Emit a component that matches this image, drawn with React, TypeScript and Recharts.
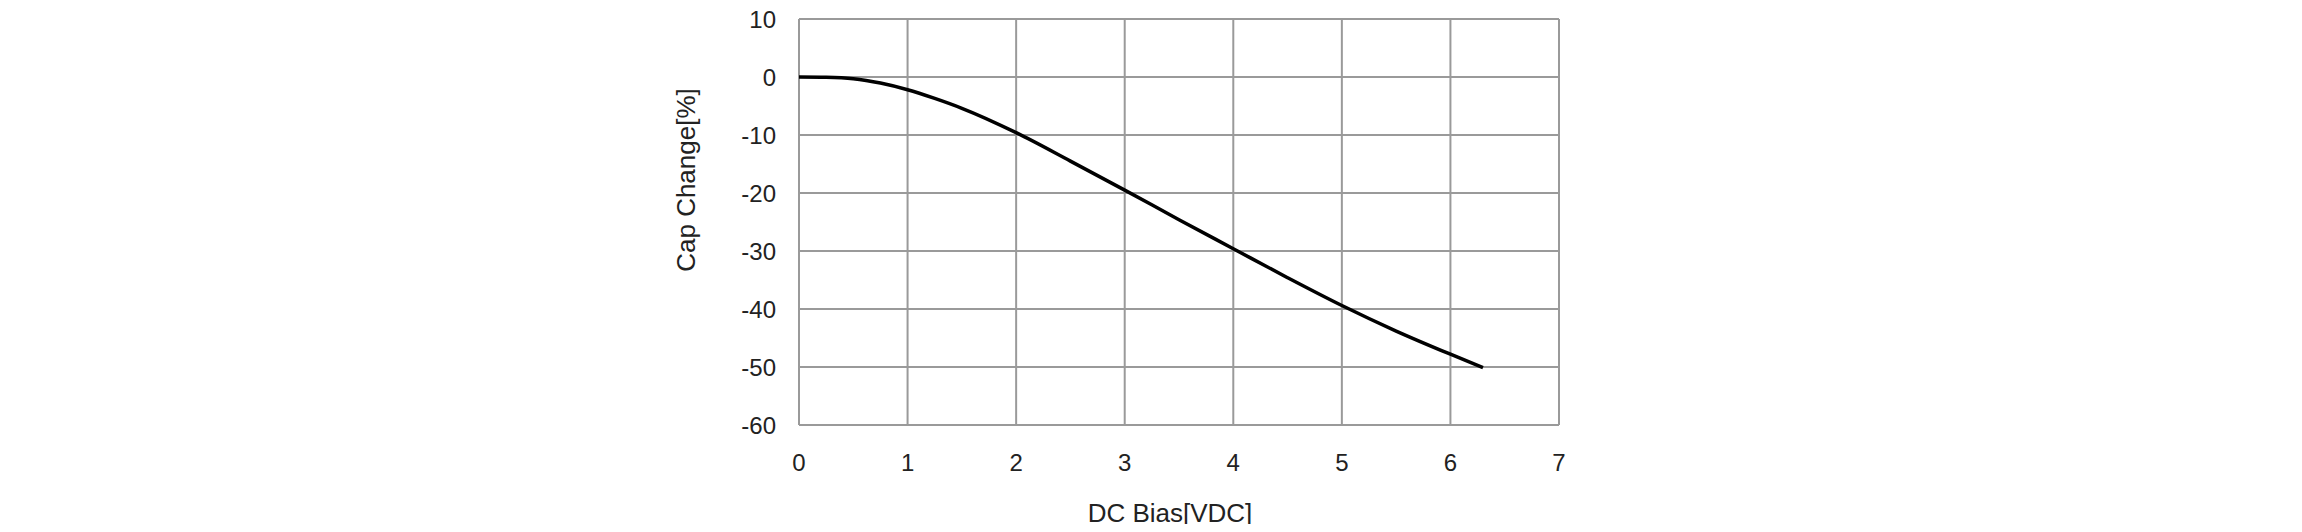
import React from "react";
import { LineChart, Line, XAxis, YAxis, CartesianGrid, Label } from "recharts";

const biasVolts = [0, 0.25, 0.5, 0.75, 1, 1.25, 1.5, 2, 2.5, 3, 3.5, 4, 4.5, 5, 5.5, 6, 6.3];
const capChange = [0, -0.05, -0.3, -1.05, -2.2, -3.7, -5.4, -9.6, -14.5, -19.5, -24.6, -29.6, -34.6, -39.4, -43.8, -47.8, -50.1];
const xTicks = [0, 1, 2, 3, 4, 5, 6, 7];
const yTicks = [10, 0, -10, -20, -30, -40, -50, -60];

const data = biasVolts.map((v, i) => ({ v, c: capChange[i] }));

const FONT = "'Liberation Sans', Arial, sans-serif";
const TEXT = "#222";

const YTitle = (props: any) => {
  const vb = props.viewBox;
  const cx = vb.x - 53;
  const cy = vb.y + 161;
  return (
    <text
      x={cx}
      y={cy}
      transform={`rotate(-90, ${cx}, ${cy})`}
      textAnchor="middle"
      dominantBaseline="central"
      fontFamily={FONT}
      fontSize={26}
      fill={TEXT}
    >
      Cap Change[%]
    </text>
  );
};

const XTitle = (props: any) => {
  const vb = props.viewBox;
  const cx = vb.x + vb.width / 2 - 9;
  const cy = vb.y + 88;
  return (
    <text
      x={cx}
      y={cy}
      textAnchor="middle"
      dominantBaseline="central"
      fontFamily={FONT}
      fontSize={26}
      fill={TEXT}
    >
      DC Bias[VDC]
    </text>
  );
};

export default function App() {
  return (
    <div style={{ width: 2302, height: 532, margin: -8 }}>
      <LineChart
        width={2302}
        height={532}
        data={data}
        margin={{ top: 19, right: 743, bottom: 47, left: 739 }}
      >
        <CartesianGrid stroke="#9a9a9a" strokeWidth={2} />
        <XAxis
          type="number"
          dataKey="v"
          domain={[0, 7]}
          ticks={xTicks}
          interval={0}
          axisLine={false}
          tickLine={false}
          tickSize={0}
          tickMargin={29}
          height={60}
          tick={{ fontFamily: FONT, fontSize: 24, fill: TEXT }}
        >
          <Label content={XTitle} />
        </XAxis>
        <YAxis
          type="number"
          domain={[-60, 10]}
          ticks={yTicks}
          interval={0}
          axisLine={false}
          tickLine={false}
          tickSize={0}
          tickMargin={23}
          width={60}
          tick={{ fontFamily: FONT, fontSize: 24, fill: TEXT }}
        >
          <Label content={YTitle} />
        </YAxis>
        <Line
          type="monotone"
          dataKey="c"
          stroke="#000"
          strokeWidth={3.5}
          dot={false}
          isAnimationActive={false}
        />
      </LineChart>
    </div>
  );
}
